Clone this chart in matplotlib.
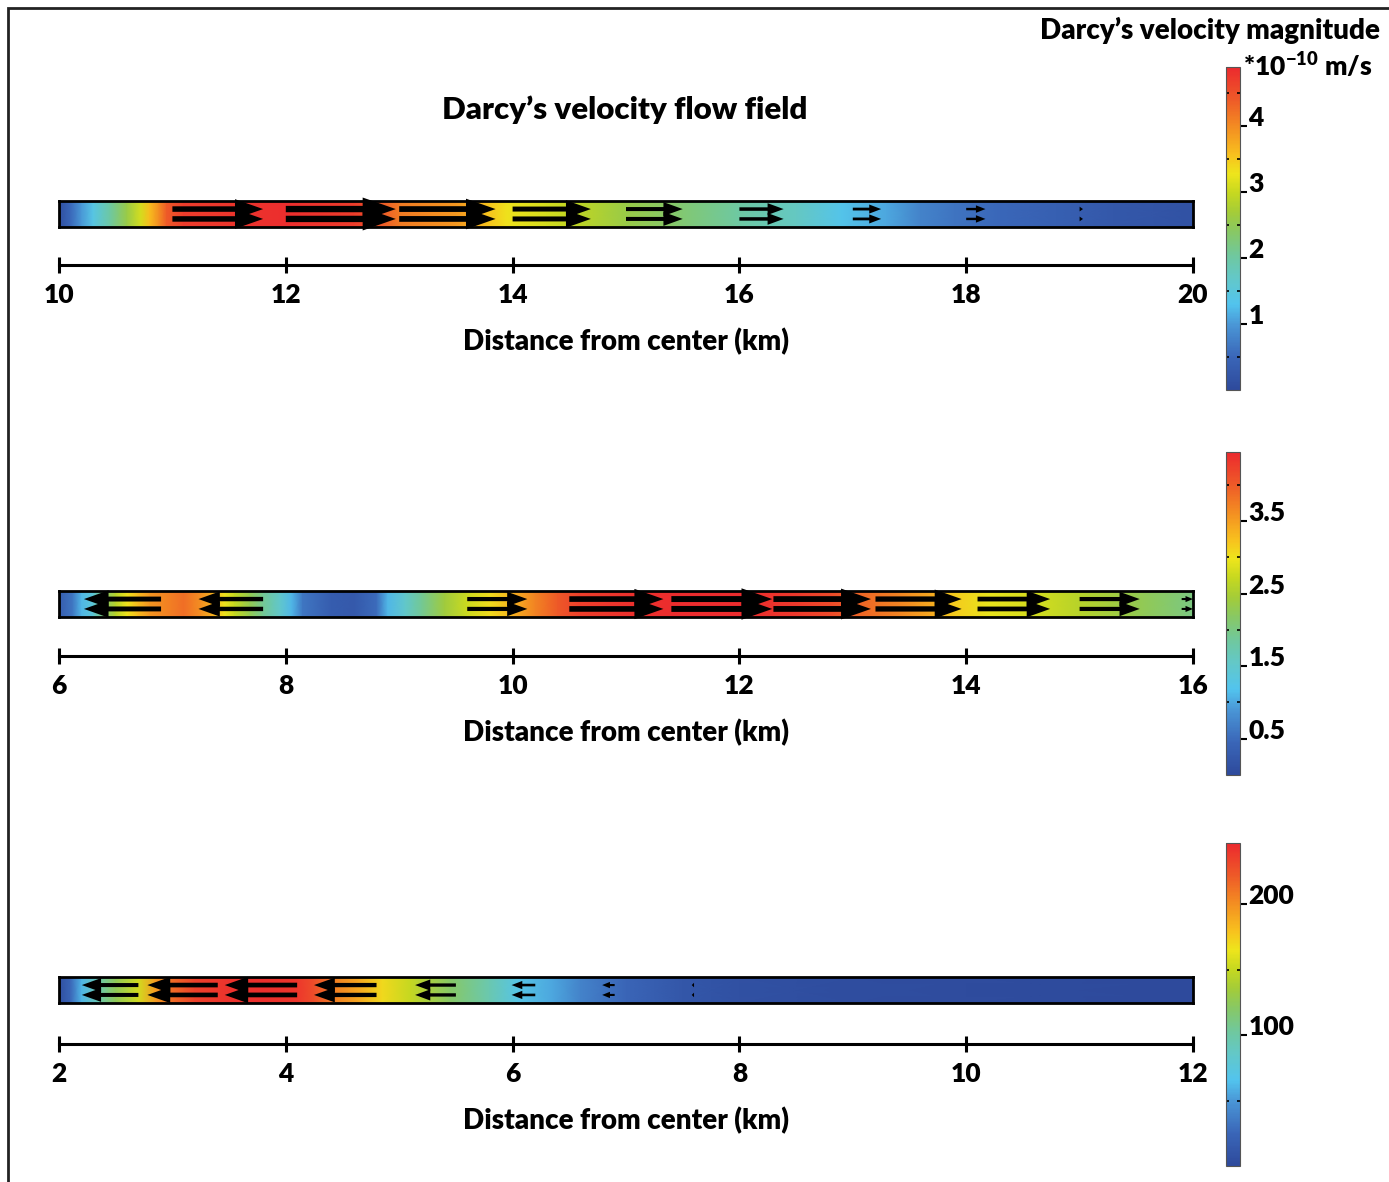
import numpy as np
import matplotlib
matplotlib.use('Agg')
import matplotlib.pyplot as plt
from matplotlib.colors import LinearSegmentedColormap, Normalize
from matplotlib.cm import ScalarMappable
from matplotlib.patches import Rectangle

plt.rcParams['font.family'] = ['Lato', 'DejaVu Sans']
plt.rcParams['font.weight'] = 'heavy'
plt.rcParams['axes.labelweight'] = 'heavy'
plt.rcParams['mathtext.fontset'] = 'custom'
plt.rcParams['mathtext.rm'] = 'Lato:heavy'
plt.rcParams['mathtext.bf'] = 'Lato:heavy'

# --- velocity magnitude along each strip (distance km, *1e-10 m/s) ---
top_x = [10.0, 10.1, 10.2, 10.3, 10.45, 10.6, 10.72, 10.8, 10.88, 10.95, 11.1, 12.0,
         12.6, 12.85, 13.0, 13.5, 13.75, 13.95, 14.3, 14.6, 15.0, 15.5, 16.0, 16.5,
         16.9, 17.3, 17.6, 17.9, 18.3, 18.8, 19.3, 20.0]
top_v = [0.1, 0.5, 1.0, 1.4, 2.0, 2.6, 3.1, 3.6, 4.0, 4.4, 4.7, 4.85,
         4.7, 4.4, 4.15, 3.9, 3.6, 3.3, 3.1, 2.9, 2.6, 2.3, 2.0, 1.75,
         1.35, 1.1, 0.8, 0.65, 0.5, 0.4, 0.25, 0.15]

mid_x = [6.0, 6.12, 6.2, 6.3, 6.38, 6.5, 6.6, 6.7, 6.8, 7.0, 7.1, 7.25, 7.38, 7.46,
         7.55, 7.68, 7.8, 7.95, 8.05, 8.15, 8.4, 8.6, 8.8, 8.9, 9.05, 9.2, 9.4, 9.6,
         9.8, 10.0, 10.2, 10.4, 10.6, 11.0, 11.5, 12.0, 12.5, 12.8, 13.0, 13.4, 13.7,
         13.9, 14.2, 14.6, 15.0, 15.5, 16.0]
mid_v = [0.3, 0.6, 1.1, 1.4, 2.0, 2.6, 3.0, 3.3, 3.55, 3.75, 3.85, 3.6, 3.3, 3.0,
         2.7, 2.3, 1.9, 1.5, 1.1, 0.6, 0.3, 0.25, 0.5, 1.1, 1.5, 1.9, 2.4, 2.75,
         3.05, 3.35, 3.7, 4.0, 4.25, 4.38, 4.42, 4.42, 4.3, 4.15, 3.95, 3.7, 3.4,
         3.15, 2.95, 2.8, 2.6, 2.3, 2.0]

bot_x = [2.0, 2.1, 2.2, 2.35, 2.5, 2.7, 2.85, 3.0, 3.2, 3.5, 3.8, 4.1, 4.25, 4.45,
         4.65, 4.85, 5.1, 5.45, 5.8, 6.05, 6.35, 6.6, 7.0, 7.5, 8.0, 9.0, 10.0, 12.0]
bot_v = [5, 25, 60, 95, 125, 155, 195, 215, 235, 242, 244, 240, 228, 205,
         190, 170, 150, 120, 95, 70, 55, 40, 25, 12, 6, 3, 2, 0]

# --- arrows (tail position km, signed velocity) ---
top_arrow_x = [11, 12, 13, 14, 15, 16, 17, 18, 19]
top_arrow_v = [4.0, 4.85, 4.25, 3.45, 2.5, 1.95, 1.25, 0.85, 0.15]
mid_arrow_x = [6.9, 7.8, 9.6, 10.5, 11.4, 12.3, 13.2, 14.1, 15.0, 15.9]
mid_arrow_v = [-3.4, -2.85, 2.65, 4.15, 4.45, 4.3, 3.8, 3.2, 2.65, 0.5]
bot_arrow_x = [2.7, 3.4, 4.1, 4.8, 5.5, 6.2, 6.9, 7.6]
bot_arrow_v = [-172, -214, -220, -190, -124, -72, -38, -7]

top_ticks = [10, 12, 14, 16, 18, 20]
mid_ticks = [6, 8, 10, 12, 14, 16]
bot_ticks = [2, 4, 6, 8, 10, 12]

top_cb_max, mid_cb_max, bot_cb_max = 4.9, 4.45, 247
top_cb_ticks, top_cb_minor = [1, 2, 3, 4], [0.5, 1.5, 2.5, 3.5, 4.5]
mid_cb_ticks, mid_cb_minor = [0.5, 1.5, 2.5, 3.5], [1, 2, 3, 4]
bot_cb_ticks, bot_cb_minor = [100, 200], [50, 150]

cmap = LinearSegmentedColormap.from_list('comsol_rainbow', [
    (0.00, '#2E4A9C'), (0.10, '#3A66B8'), (0.20, '#4A96D6'), (0.265, '#52C4EE'),
    (0.35, '#64C8C6'), (0.41, '#6EC8A2'), (0.49, '#88C864'), (0.55, '#A4CC38'),
    (0.61, '#C6D820'), (0.67, '#EEE51C'), (0.73, '#F8C01E'), (0.82, '#F38A22'),
    (0.90, '#EE5A28'), (1.00, '#EC2A2E')])

W, H = 1389, 1182
fig = plt.figure(figsize=(W / 100, H / 100), dpi=100)

# frame (only left and top edges are inside the image)
fig.patches.append(Rectangle((8 / W, -0.1), 1.2, 1.1 - 8 / H, fill=False,
                             lw=2, ec='#222222', transform=fig.transFigure))


def draw_panel(strip_top, axis_gap, xs, vs, vmax, ax_x, ax_v, scale, ticks,
               cb_top, cb_ticks, cb_minor, cb_fmt):
    left, right = 59, 1193
    ax = fig.add_axes([left / W, 1 - (strip_top + 26) / H, (right - left) / W, 26 / H])
    X, Y = np.meshgrid(xs, [0, 1])
    C = np.vstack([vs, vs])
    ax.pcolormesh(X, Y, C, shading='gouraud', cmap=cmap, vmin=0, vmax=vmax)
    ax.set_xlim(ticks[0], ticks[-1])
    ax.set_ylim(0, 1)
    ax.set_xticks([])
    ax.set_yticks([])
    for s in ax.spines.values():
        s.set_linewidth(2)

    for x0, v in zip(ax_x, ax_v):
        L = v * scale
        La = abs(L)
        hl = min(0.04 + 0.26 * La, La)
        for y in (0.69, 0.31):
            ax.arrow(x0, y, L, 0, width=0.06 + 0.19 * La, head_width=0.16 + 0.75 * La,
                     head_length=hl, length_includes_head=True, color='black',
                     lw=0, clip_on=False, zorder=3)

    sec = ax.secondary_xaxis(-axis_gap / 26)
    sec.set_xticks(ticks)
    sec.spines['bottom'].set_linewidth(2.2)
    sec.tick_params(direction='inout', length=12, width=2.2, labelsize=19, pad=7)
    sec.set_xlabel('Distance from center (km)', fontsize=20, fontweight='heavy',
                   labelpad=15)

    cax = fig.add_axes([1226 / W, 1 - (cb_top + 323) / H, 14 / W, 323 / H])
    cb = fig.colorbar(ScalarMappable(norm=Normalize(0, vmax), cmap=cmap), cax=cax)
    cb.set_ticks(cb_ticks, labels=[cb_fmt.format(t) for t in cb_ticks])
    cax.set_yticks(cb_minor, minor=True)
    cax.tick_params(which='major', direction='out', length=5, width=1.5,
                    labelsize=19, pad=1)
    cax.tick_params(which='minor', direction='in', length=2.5, width=1.2,
                    left=True, right=True)
    for lab in cax.get_yticklabels():
        lab.set_verticalalignment('baseline')
    cb.outline.set_linewidth(0.8)
    cb.outline.set_edgecolor('#555555')


draw_panel(201, 38, top_x, top_v, top_cb_max, top_arrow_x, top_arrow_v, 0.2,
           top_ticks, 67, top_cb_ticks, top_cb_minor, '{:g}')
draw_panel(591, 39, mid_x, mid_v, mid_cb_max, mid_arrow_x, mid_arrow_v, 0.2,
           mid_ticks, 452, mid_cb_ticks, mid_cb_minor, '{:g}')
draw_panel(977, 41, bot_x, bot_v, bot_cb_max, bot_arrow_x, bot_arrow_v, 0.0029,
           bot_ticks, 843, bot_cb_ticks, bot_cb_minor, '{:g}')

fig.text(625 / W, 1 - 110 / H, 'Darcy\u2019s velocity flow field', ha='center',
         va='center', fontsize=22.5)
fig.text(1380 / W, 1 - 30 / H, 'Darcy\u2019s velocity magnitude', ha='right',
         va='center', fontsize=20)
fig.text(1243 / W, 1 - 65 / H, r'*10$^{-10}$ m/s', ha='left', va='center',
         fontsize=19)

fig.savefig('out.png', dpi=100)
